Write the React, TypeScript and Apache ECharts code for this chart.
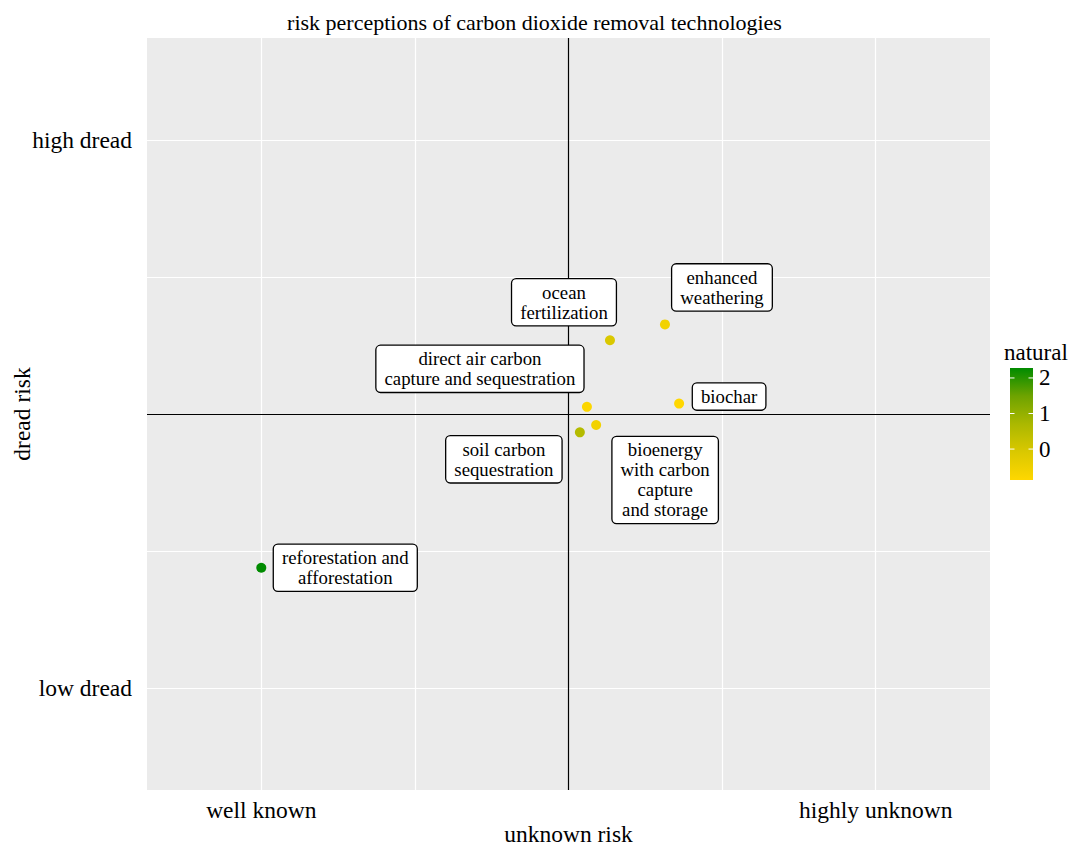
import React, { useEffect, useRef } from "react";
import * as echarts from "echarts";

// ---- data ----
const techNames = [
  "reforestation and\nafforestation",
  "soil carbon\nsequestration",
  "direct air carbon\ncapture and sequestration",
  "bioenergy\nwith carbon\ncapture\nand storage",
  "ocean\nfertilization",
  "enhanced\nweathering",
  "biochar",
];
const unknownRisk = [-1.0, 0.037, 0.06, 0.09, 0.135, 0.314, 0.36];
const dreadRisk = [-0.561, -0.067, 0.026, -0.04, 0.269, 0.327, 0.038];
const natural = [2.28, 0.55, -0.8, -0.6, -0.08, -0.6, -0.87];

const xTickValues = [-1, 0, 1];
const xTickLabels = ["well known", "", "highly unknown"];
const yTickValues = [-1, 0, 1];
const yTickLabels = ["low dread", "", "high dread"];
const xMinorGrid = [-0.5, 0.5];
const yMinorGrid = [-0.5, 0.5];
const legendTicks = [0, 1, 2];

// ---- layout / style (not data) ----
const labelOffsets: [number, number][] = [
  [84, 0],
  [-76, 27],
  [-107, -38],
  [69, 55],
  [-46, -38],
  [57, -37],
  [50, -7],
];
const AX = 1.372;
const NAT_MIN = -0.87;
const NAT_MAX = 2.28;
const gradColors = ["#FFD700", "#DAC800", "#ABB800", "#6EA300", "#008B00"];
const FONT = "'Liberation Serif', 'Times New Roman', serif";

export default function App() {
  const ref = useRef<HTMLDivElement>(null);
  useEffect(() => {
    document.body.style.margin = "0";
    const chart = echarts.init(ref.current!, null, { renderer: "svg" });

    const scatterData = techNames.map((n, i) => ({
      name: n,
      value: [unknownRisk[i], dreadRisk[i], natural[i]],
    }));

    const gridLineData: any[] = [];
    [...xTickValues.filter((v) => v !== 0), ...xMinorGrid].forEach((v) =>
      gridLineData.push({ xAxis: v, lineStyle: { color: "#ffffff", width: 1.2, type: "solid" } })
    );
    [...yTickValues.filter((v) => v !== 0), ...yMinorGrid].forEach((v) =>
      gridLineData.push({ yAxis: v, lineStyle: { color: "#ffffff", width: 1.2, type: "solid" } })
    );
    gridLineData.push({ xAxis: 0, lineStyle: { color: "#000000", width: 1.2, type: "solid" } });
    gridLineData.push({ yAxis: 0, lineStyle: { color: "#000000", width: 1.2, type: "solid" } });

    const stops = gradColors
      .slice()
      .reverse()
      .map((c, i, arr) => ({ offset: i / (arr.length - 1), color: c }));

    const option: any = {
      animation: false,
      backgroundColor: "#ffffff",
      textStyle: { fontFamily: FONT },
      title: [
        {
          text: "risk perceptions of carbon dioxide removal technologies",
          left: "center",
          top: 6,
          textStyle: { fontFamily: FONT, fontSize: 22, fontWeight: "normal", color: "#000" },
        },
        {
          text: "natural",
          left: 999,
          top: 336,
          textStyle: { fontFamily: FONT, fontSize: 23, fontWeight: "normal", color: "#000" },
        },
      ],
      grid: [
        {
          left: 147,
          right: 79,
          top: 38,
          bottom: 60,
          show: true,
          backgroundColor: "#EBEBEB",
          borderWidth: 0,
          outerBoundsMode: "none",
          containLabel: false,
        },
        {
          left: 1010,
          top: 368,
          width: 23,
          height: 112,
          show: false,
          outerBoundsMode: "none",
          containLabel: false,
        },
      ],
      xAxis: [
        {
          type: "value",
          gridIndex: 0,
          min: -AX,
          max: AX,
          name: "unknown risk",
          nameLocation: "middle",
          nameGap: 32,
          nameMoveOverlap: false,
          nameTextStyle: { fontFamily: FONT, fontSize: 23.5, color: "#000" },
          axisLine: { show: false },
          splitLine: { show: false },
          axisTick: {
            show: true,
            length: 3,
            customValues: xTickValues,
            lineStyle: { color: "#333", width: 1 },
          },
          axisLabel: {
            customValues: xTickValues,
            margin: 8,
            fontFamily: FONT,
            fontSize: 23.5,
            color: "#000",
            formatter: (v: number) => {
              const i = xTickValues.findIndex((t) => Math.abs(t - v) < 1e-9);
              return i >= 0 ? xTickLabels[i] : "";
            },
          },
        },
        {
          type: "value",
          gridIndex: 1,
          min: 0,
          max: 1,
          show: false,
        },
      ],
      yAxis: [
        {
          type: "value",
          gridIndex: 0,
          min: -AX,
          max: AX,
          name: "dread risk",
          nameLocation: "middle",
          nameGap: 113,
          nameMoveOverlap: false,
          nameTextStyle: { fontFamily: FONT, fontSize: 23.5, color: "#000" },
          axisLine: { show: false },
          splitLine: { show: false },
          axisTick: {
            show: true,
            length: 3,
            customValues: yTickValues,
            lineStyle: { color: "#333", width: 1 },
          },
          axisLabel: {
            customValues: yTickValues,
            margin: 15,
            fontFamily: FONT,
            fontSize: 23.5,
            color: "#000",
            formatter: (v: number) => {
              const i = yTickValues.findIndex((t) => Math.abs(t - v) < 1e-9);
              return i >= 0 ? yTickLabels[i] : "";
            },
          },
        },
        {
          type: "value",
          gridIndex: 1,
          min: NAT_MIN,
          max: NAT_MAX,
          position: "right",
          axisLine: { show: false },
          axisTick: { show: false },
          splitLine: { show: false },
          axisLabel: {
            customValues: legendTicks,
            margin: 6,
            fontFamily: FONT,
            fontSize: 23,
            color: "#000",
          },
        },
      ],
      visualMap: {
        show: false,
        type: "continuous",
        seriesIndex: 1,
        dimension: 2,
        min: NAT_MIN,
        max: NAT_MAX,
        inRange: { color: gradColors },
      },
      series: [
        {
          type: "line",
          xAxisIndex: 0,
          yAxisIndex: 0,
          data: [],
          z: 1,
          silent: true,
          markLine: {
            z: 1,
            silent: true,
            symbol: ["none", "none"],
            label: { show: false },
            animation: false,
            data: gridLineData,
          },
        },
        {
          type: "scatter",
          xAxisIndex: 0,
          yAxisIndex: 0,
          z: 3,
          symbol: "circle",
          symbolSize: 10,
          itemStyle: { opacity: 1 },
          data: scatterData,
          label: {
            show: true,
            position: "inside",
            formatter: (p: any) => p.name,
            fontFamily: FONT,
            fontSize: 18.8,
            lineHeight: 20,
            color: "#000",
            align: "center",
            verticalAlign: "middle",
            backgroundColor: "#ffffff",
            borderColor: "#000000",
            borderWidth: 1.3,
            borderRadius: 4,
            padding: [3, 8],
          },
          labelLayout: (params: any) => ({
            dx: labelOffsets[params.dataIndex][0],
            dy: labelOffsets[params.dataIndex][1],
            hideOverlap: false,
          }),
        },
        {
          type: "custom",
          xAxisIndex: 1,
          yAxisIndex: 1,
          silent: true,
          data: [[0, 0]],
          renderItem: (params: any, api: any) => {
            const tl = api.coord([0, NAT_MAX]);
            const br = api.coord([1, NAT_MIN]);
            const children: any[] = [
              {
                type: "rect",
                shape: { x: tl[0], y: tl[1], width: br[0] - tl[0], height: br[1] - tl[1] },
                style: { fill: new echarts.graphic.LinearGradient(0, 0, 0, 1, stops) },
              },
            ];
            legendTicks.forEach((v) => {
              const l = api.coord([0, v]);
              const r = api.coord([1, v]);
              children.push({
                type: "line",
                shape: { x1: l[0], y1: l[1], x2: l[0] + 4.5, y2: l[1] },
                style: { stroke: "#ffffff", lineWidth: 1 },
              });
              children.push({
                type: "line",
                shape: { x1: r[0] - 4.5, y1: r[1], x2: r[0], y2: r[1] },
                style: { stroke: "#ffffff", lineWidth: 1 },
              });
            });
            return { type: "group", children };
          },
        },
      ],
    };

    chart.setOption(option);
    return () => chart.dispose();
  }, []);

  return <div ref={ref} style={{ width: 1069, height: 850 }} />;
}
